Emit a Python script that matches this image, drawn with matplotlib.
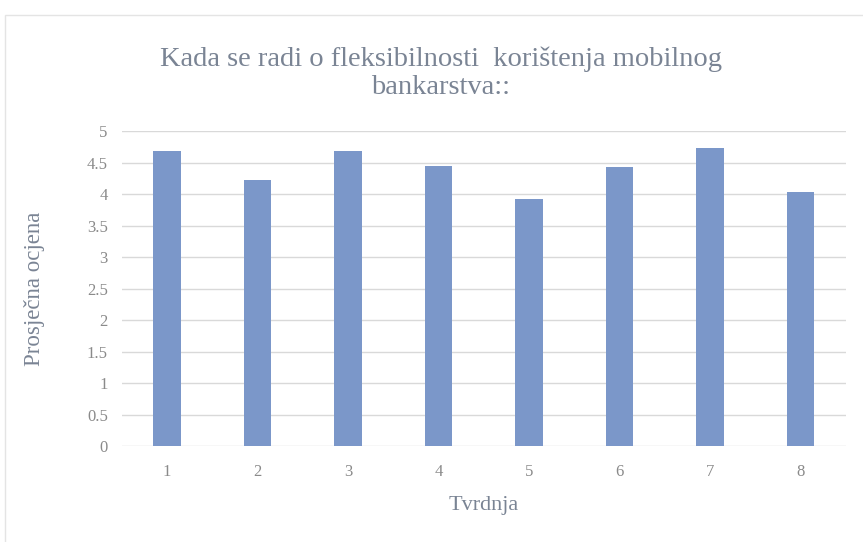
import matplotlib.pyplot as plt
from matplotlib.patches import Rectangle

# data
tvrdnje = ["1", "2", "3", "4", "5", "6", "7", "8"]
ocjene = [4.68, 4.23, 4.68, 4.45, 3.93, 4.43, 4.73, 4.03]
y_ticks = [0, 0.5, 1, 1.5, 2, 2.5, 3, 3.5, 4, 4.5, 5]
y_tick_labels = ["0", "0.5", "1", "1.5", "2", "2.5", "3", "3.5", "4", "4.5", "5"]

plt.rcParams['font.family'] = ['Liberation Serif', 'DejaVu Serif']
text_color = '#7a8494'
bar_color = '#7b97c9'

fig = plt.figure(figsize=(8.63, 5.42), dpi=100)
ax = fig.add_axes([0.141, 0.177, 0.839, 0.581])

x = range(len(tvrdnje))
ax.bar(x, ocjene, width=0.3, color=bar_color, zorder=3)

ax.set_xlim(-0.5, len(tvrdnje) - 0.5)
ax.set_ylim(0, 5)
ax.set_xticks(list(x))
ax.set_xticklabels(tvrdnje)
ax.set_yticks(y_ticks)
ax.set_yticklabels(y_tick_labels)
ax.tick_params(axis='x', length=0, colors='#8a8a8a', labelsize=12, pad=13)
ax.tick_params(axis='y', length=0, colors='#8a8a8a', labelsize=12, pad=10)
ax.yaxis.grid(True, color='#d9d9d9', linewidth=1, zorder=0)
for s in ax.spines.values():
    s.set_visible(False)

ax.set_xlabel("Tvrdnja", fontsize=16, color=text_color)
ax.set_ylabel("Prosječna ocjena", fontsize=16.5, color=text_color)
ax.xaxis.set_label_coords(0.5, -0.16)
ax.yaxis.set_label_coords(-0.106, 0.5)

fig.text(0.511, 0.865, "Kada se radi o fleksibilnosti  korištenja mobilnog\nbankarstva::",
         ha='center', va='center', fontsize=20.5, color=text_color, linespacing=1.15)

# faint chart border
fig.patches.append(Rectangle((5 / 863, -0.1), 1.1, (542 - 15) / 542 + 0.1,
                             transform=fig.transFigure, fill=False,
                             edgecolor='#e4e4e4', linewidth=1))

fig.savefig("out.png", dpi=100)
